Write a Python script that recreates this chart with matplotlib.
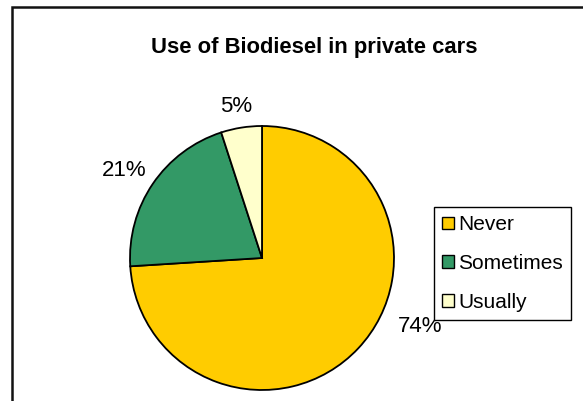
import matplotlib.pyplot as plt
from matplotlib.patches import Rectangle

plt.rcParams['font.family'] = ['Liberation Sans', 'DejaVu Sans']

# survey answers
answers = ['Never', 'Sometimes', 'Usually']
shares = [74, 21, 5]
colours = ['#FFCC00', '#339966', '#FFFFCC']

fig = plt.figure(figsize=(5.83, 4.01), dpi=100)

# chart frame, running off the right and bottom edges
fig.patches.append(Rectangle((12 / 583, -0.1), 1.2, 1 - 7 / 401 + 0.1,
                             transform=fig.transFigure, fill=False,
                             edgecolor='#111111', linewidth=1.8))

fig.text(314 / 583, 1 - 48 / 401, 'Use of Biodiesel in private cars',
         ha='center', va='center', fontsize=15.8, fontweight='bold')

# square axes holding the pie
ax = fig.add_axes([130 / 583, 11 / 401, 264 / 583, 264 / 401])
wedges, texts, pcts = ax.pie(shares, colors=colours, startangle=90,
                             counterclock=False, autopct='%.0f%%',
                             pctdistance=1.18, radius=1,
                             wedgeprops=dict(edgecolor='black', linewidth=1.3),
                             textprops=dict(fontsize=16))
ax.set_xlim(-1, 1)
ax.set_ylim(-1, 1)
ax.axis('off')

# label spots (pie axes units)
spots = [(1.197, -0.52), (-1.045, 0.66), (-0.197, 1.15)]
for t, (x, y) in zip(pcts, spots):
    t.set_position((x, y))

leg = fig.legend(wedges, answers, loc='upper left',
                 bbox_to_anchor=(434 / 583, 1 - 207 / 401),
                 fontsize=15, frameon=True, fancybox=False,
                 edgecolor='black', framealpha=1,
                 handlelength=0.55, handleheight=0.55, handletextpad=0.2,
                 labelspacing=0.95, borderpad=0.4, borderaxespad=0)
leg.get_frame().set_linewidth(1.0)
for h in leg.legend_handles:
    h.set_linewidth(1.0)

fig.savefig('out.png', dpi=100)
